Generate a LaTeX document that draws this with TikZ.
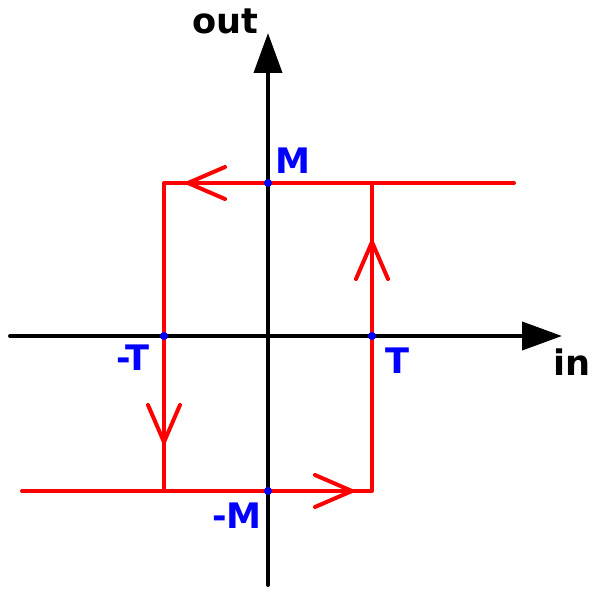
\documentclass[tikz,border=0pt]{standalone}
\usepackage{fontspec}
\setmainfont{DejaVu Sans}
\usetikzlibrary{arrows.meta}

\begin{document}
\begin{tikzpicture}[line cap=round,line join=round,x=0.02cm,y=0.02cm,
	axis/.style={line width=0.08cm,draw=black,-{Triangle[length=0.8cm,width=0.56cm]}},
	loop/.style={line width=0.08cm,draw=red},
	lbl/.style={anchor=base,inner sep=0pt,font=\fontsize{20}{24}\selectfont\bfseries},
	pt/.style={fill=blue}]
				\useasboundingbox (-268,-264) rectangle (332,336);
				% axes
				\coordinate (xl) at (-258,0);
				\coordinate (xr) at (294,0);
				\coordinate (yb) at (0,-249);
				\coordinate (yt) at (0,303);
				\draw [axis] (xl)-- (xr);
				\draw [axis] (yb)-- (yt);
				% loop
				\coordinate (A) at (246,153);
				\coordinate (B) at (-104,153);
				\coordinate (C) at (-104,-155);
				\coordinate (D) at (-246,-155);
				\coordinate (E) at (104,-155);
				\coordinate (F) at (104,153);
				\draw [loop] (A)-- (B)-- (C);
				\draw [loop] (D)-- (E)-- (F);
				% direction marks
				\coordinate (ta) at (-80,153);
				\coordinate (tb) at (104,94);
				\coordinate (tc) at (-104,-106);
				\coordinate (td) at (84,-155);
				\draw [loop] (ta) ++(37,16) -- (ta) -- ++(37,-16);
				\draw [loop] (tb) ++(-16,-37) -- (tb) -- ++(16,-37);
				\draw [loop] (tc) ++(-16,37) -- (tc) -- ++(16,37);
				\draw [loop] (td) ++(-37,16) -- (td) -- ++(-37,-16);
				% points
				\fill [pt] (-104,0) circle (4);
				\fill [pt] (104,0) circle (4);
				\fill [pt] (0,153) circle (4);
				\fill [pt] (0,-155) circle (4);
				% labels
				\node [lbl] (out) at (-43,303) {out};
				\node [lbl] (in) at (304,-39) {in};
				\node [lbl,blue] (M) at (25,163) {M};
				\node [lbl,blue] (T) at (129,-37) {T};
				\node [lbl,blue] (mT) at (-135,-34) {-T};
				\node [lbl,blue] (mM) at (-31,-192) {-M};
			\end{tikzpicture}
\end{document}
